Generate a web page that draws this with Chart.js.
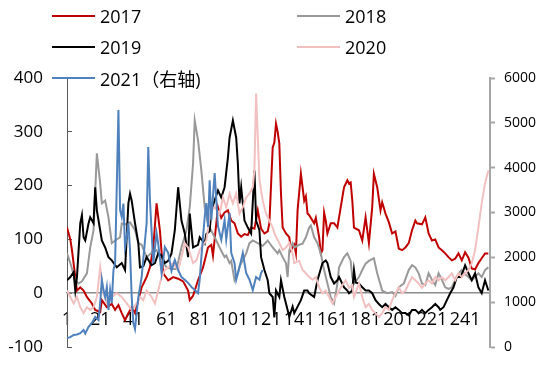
<!DOCTYPE html>
<html>
<head>
<meta charset="utf-8">
<script src="https://cdn.jsdelivr.net/npm/chart.js@4.4.1/dist/chart.umd.min.js"></script>
<style>
  body { margin: 0; background: #fff; }
  #wrap { position: relative; width: 546px; height: 368px; }
  .lg { position: absolute; height: 20px; display: flex; align-items: center;
        font: 18px 'Open Sans', 'Noto Sans CJK SC', sans-serif; color: #000; white-space: nowrap; }
  .lg i { display: inline-block; width: 43px; height: 2px; margin-right: 5px; }
</style>
</head>
<body>
<div id="wrap">
  <canvas id="c" width="546" height="368"></canvas>
</div>
<script>
// x categories 1..256, every 20th one labelled
const xTicks = [1, 21, 41, 61, 81, 101, 121, 141, 161, 181, 201, 221, 241];
const leftTicks = [-100, 0, 100, 200, 300, 400];
const rightTicks = [0, 1000, 2000, 3000, 4000, 5000, 6000];

// [day, value]
const s2017 = [[1,122],[3,100],[4,80],[6,30],[7,5],[9,11],[11,5],[13,-7],[16,-19],[18,-31],[21,-35],[22,-13],[25,-26],[28,-20],[30,-31],[32,-22],[34,-37],[36,-50],[38,-37],[40,-26],[42,-37],[44,-13],[46,11],[49,30],[51,48],[53,85],[55,167],[57,117],[59,37],[62,24],[65,30],[68,27],[71,22],[74,5],[75,-13],[77,-5],[80,24],[83,48],[86,85],[88,90],[89,70],[92,160],[94,140],[96,150],[98,154],[100,135],[102,130],[104,111],[106,105],[108,110],[110,108],[112,122],[114,120],[116,154],[118,120],[120,111],[122,115],[123,130],[125,271],[126,280],[127,315],[128,300],[129,278],[130,185],[131,122],[133,111],[135,104],[136,80],[138,90],[139,74],[140,154],[142,222],[144,172],[145,180],[146,148],[147,145],[150,130],[151,140],[153,104],[154,74],[155,80],[156,150],[157,135],[158,111],[160,130],[162,130],[164,122],[165,141],[168,197],[170,210],[171,204],[172,206],[173,172],[174,122],[177,117],[179,98],[181,141],[183,93],[185,160],[186,222],[188,197],[190,154],[191,169],[193,148],[195,132],[197,111],[199,115],[201,83],[203,80],[205,85],[207,93],[209,117],[211,135],[212,130],[215,128],[217,141],[219,111],[221,98],[223,100],[225,85],[227,80],[229,74],[231,67],[233,61],[235,64],[237,74],[239,61],[241,76],[243,66],[245,46],[247,44],[249,56],[251,65],[253,74],[255,74]];
const s2018 = [[1,74],[3,56],[6,24],[8,18],[10,22],[13,37],[15,85],[17,117],[19,260],[21,204],[22,167],[24,172],[26,141],[28,93],[30,98],[33,104],[34,130],[36,128],[39,132],[42,117],[44,93],[46,90],[49,67],[52,75],[55,80],[58,61],[61,48],[64,45],[67,45],[70,85],[73,117],[75,160],[77,241],[78,321],[80,284],[82,228],[84,160],[86,130],[87,122],[89,110],[91,98],[93,85],[96,67],[97,70],[99,56],[100,60],[102,24],[104,37],[105,50],[107,61],[109,74],[111,93],[113,98],[116,93],[119,88],[122,98],[125,85],[128,74],[129,80],[131,67],[133,56],[134,30],[135,80],[137,93],[138,85],[141,90],[143,92],[145,104],[147,122],[148,126],[150,104],[152,93],[154,74],[156,43],[158,18],[160,-7],[162,-19],[164,18],[165,48],[168,67],[170,74],[172,60],[173,30],[174,18],[177,30],[179,43],[181,55],[183,60],[186,65],[188,37],[191,5],[194,0],[197,2],[199,-5],[201,11],[204,18],[207,43],[209,52],[211,48],[213,37],[215,18],[217,15],[219,37],[221,25],[223,15],[225,37],[227,25],[229,11],[231,8],[233,11],[235,24],[237,37],[239,43],[241,35],[243,30],[245,24],[247,30],[249,37],[251,30],[253,43],[255,48]];
const s2019 = [[1,24],[3,30],[5,39],[6,5],[7,30],[9,130],[10,145],[11,104],[12,98],[14,130],[15,141],[17,130],[18,197],[19,154],[21,117],[22,98],[24,85],[26,67],[28,61],[31,48],[34,56],[36,43],[38,167],[39,185],[40,172],[42,130],[44,93],[45,48],[47,50],[49,67],[52,52],[54,56],[56,74],[58,70],[60,56],[62,60],[64,74],[66,117],[68,197],[70,135],[72,111],[74,67],[75,148],[77,85],[80,90],[81,104],[84,92],[85,110],[87,115],[88,154],[92,191],[94,178],[96,197],[98,252],[99,289],[101,321],[103,289],[104,241],[105,167],[106,197],[108,135],[110,122],[112,111],[114,228],[115,135],[117,117],[118,67],[120,43],[122,24],[123,0],[125,-7],[126,-45],[127,5],[129,-7],[130,24],[132,-7],[134,-31],[135,-44],[137,-25],[138,-37],[140,-25],[142,-13],[144,5],[146,5],[147,0],[150,-7],[152,24],[155,56],[157,61],[158,56],[160,30],[162,18],[164,24],[165,30],[168,11],[170,5],[171,0],[173,5],[174,43],[175,20],[177,18],[179,11],[181,5],[183,5],[185,0],[187,-13],[189,-20],[191,-26],[193,-20],[195,-26],[197,-31],[199,-26],[201,-31],[203,-37],[205,-37],[207,-41],[209,-31],[211,-31],[213,-37],[215,-31],[217,-37],[219,-31],[221,-26],[223,-20],[225,-26],[226,-31],[228,-26],[230,-13],[232,0],[234,11],[236,30],[238,30],[240,43],[241,52],[243,37],[245,24],[247,37],[249,11],[251,0],[253,24],[255,5]];
const s2020 = [[1,5],[3,-7],[5,-19],[7,-7],[9,-26],[11,-37],[13,-26],[15,-31],[17,-26],[19,-7],[21,48],[23,0],[25,-19],[28,-7],[31,0],[34,-7],[37,-19],[40,-31],[43,-19],[45,-7],[47,-13],[49,5],[52,-7],[54,-19],[56,5],[58,30],[60,43],[62,48],[65,56],[68,43],[70,67],[72,93],[74,85],[77,56],[79,61],[81,80],[82,85],[85,98],[87,141],[88,154],[90,160],[93,148],[95,178],[97,160],[99,185],[101,167],[103,185],[105,148],[107,160],[109,178],[111,185],[113,197],[114,230],[115,371],[117,210],[119,172],[121,148],[123,135],[125,122],[126,111],[127,105],[129,93],[131,80],[133,85],[135,93],[137,74],[138,56],[141,60],[143,43],[145,37],[147,30],[149,25],[151,30],[153,11],[155,0],[157,5],[159,-7],[161,-19],[163,-7],[165,5],[167,15],[169,24],[171,10],[173,15],[174,-7],[177,18],[179,-7],[181,-26],[183,-20],[185,-31],[187,-37],[189,-44],[191,-37],[193,-26],[195,-31],[197,-13],[199,0],[201,11],[203,0],[205,5],[207,18],[209,30],[211,24],[213,18],[215,10],[217,18],[219,24],[221,18],[223,30],[225,24],[227,30],[229,24],[231,30],[233,37],[235,24],[237,37],[239,30],[241,37],[243,43],[245,56],[247,80],[249,122],[251,167],[253,204],[255,228]];
// 2021 is on the right axis
const s2021 = [[1,200],[3,220],[5,270],[7,280],[9,310],[11,380],[12,300],[14,450],[16,535],[18,670],[20,600],[21,980],[22,1500],[23,1270],[24,1115],[25,1340],[26,825],[27,1270],[28,980],[29,1717],[30,1870],[32,5285],[33,3055],[34,2900],[35,3200],[36,2230],[37,2450],[38,2765],[39,2160],[40,1115],[41,535],[42,400],[44,1115],[46,1560],[49,2765],[50,4460],[51,3280],[53,1870],[55,2540],[56,2300],[58,1650],[60,2230],[62,2100],[64,1700],[66,1940],[68,1717],[70,1560],[72,1500],[74,1430],[76,1340],[78,1270],[80,1200],[81,1500],[82,2000],[84,2900],[85,3210],[86,2680],[87,3720],[88,2830],[90,3880],[92,2700],[94,2390],[96,2830],[97,2400],[99,2990],[100,2100],[102,1870],[103,1500],[105,1780],[107,2100],[109,1650],[111,1500],[113,1270],[115,1560],[117,1500],[118,1650],[119,1717]];

const series = [
  { label: '2017', data: s2017, color: '#c00000', axis: 'y' },
  { label: '2018', data: s2018, color: '#999999', axis: 'y' },
  { label: '2019', data: s2019, color: '#000000', axis: 'y' },
  { label: '2020', data: s2020, color: '#f2c0c0', axis: 'y' },
  { label: '2021（右轴)', data: s2021, color: '#4f81bd', axis: 'y1' }
];

const font = 'Open Sans';

// y axes: fixed width, and no extra label padding pushing the plot area up
const fixWidth = w => s => { s.width = w; s.paddingTop = 0; s.paddingBottom = 0; };

new Chart(document.getElementById('c'), {
  type: 'line',
  data: {
    datasets: series.map((s, i) => ({
      label: s.label,
      data: s.data.map(([x, y]) => ({ x, y })),
      borderColor: s.color,
      borderWidth: 2,
      pointRadius: 0,
      tension: 0,
      yAxisID: s.axis,
      order: series.length - i
    }))
  },
  options: {
    responsive: false,
    animation: false,
    layout: { padding: { top: 78, bottom: 21, left: 0, right: 0 } },
    plugins: { legend: { display: false }, tooltip: { enabled: false } },
    scales: {
      x: {
        type: 'linear',
        min: 1,
        max: 256,
        position: { y: 0 },
        afterBuildTicks: s => { s.ticks = xTicks.map(v => ({ value: v })); },
        afterFit: s => { s.height = 0; },
        grid: { display: false, drawTicks: false },
        border: { color: '#8c8c8c', width: 1.5 },
        ticks: { color: '#000', font: { family: font, size: 18 }, padding: 16, maxRotation: 0, autoSkip: false }
      },
      y: {
        position: 'left',
        min: -100,
        max: 400,
        afterBuildTicks: s => { s.ticks = leftTicks.map(v => ({ value: v })); },
        afterFit: fixWidth(67),
        grid: { drawOnChartArea: false, tickLength: -5, color: '#595959', tickWidth: 1 },
        border: { color: '#595959', width: 1 },
        ticks: { color: '#000', font: { family: font, size: 17 }, padding: 29 }
      },
      y1: {
        position: 'right',
        min: 0,
        max: 6000,
        afterBuildTicks: s => { s.ticks = rightTicks.map(v => ({ value: v })); },
        afterFit: fixWidth(56),
        grid: { drawOnChartArea: false, tickLength: 5, color: '#a6a6a6', tickWidth: 2 },
        border: { color: '#a6a6a6', width: 2 },
        ticks: { color: '#000', font: { family: font, size: 14 }, padding: 9, callback: v => String(v) }
      }
    }
  }
});

// legend drawn as html text on top of the canvas, two columns
const wrap = document.getElementById('wrap');
const colX = [52, 297];
const rowY = [6, 37, 68];
series.forEach((s, i) => {
  const el = document.createElement('div');
  el.className = 'lg';
  el.style.left = colX[i % 2] + 'px';
  el.style.top = rowY[Math.floor(i / 2)] + 'px';
  el.innerHTML = '<i style="background:' + s.color + '"></i>';
  el.appendChild(document.createTextNode(s.label));
  wrap.appendChild(el);
});
</script>
</body>
</html>
